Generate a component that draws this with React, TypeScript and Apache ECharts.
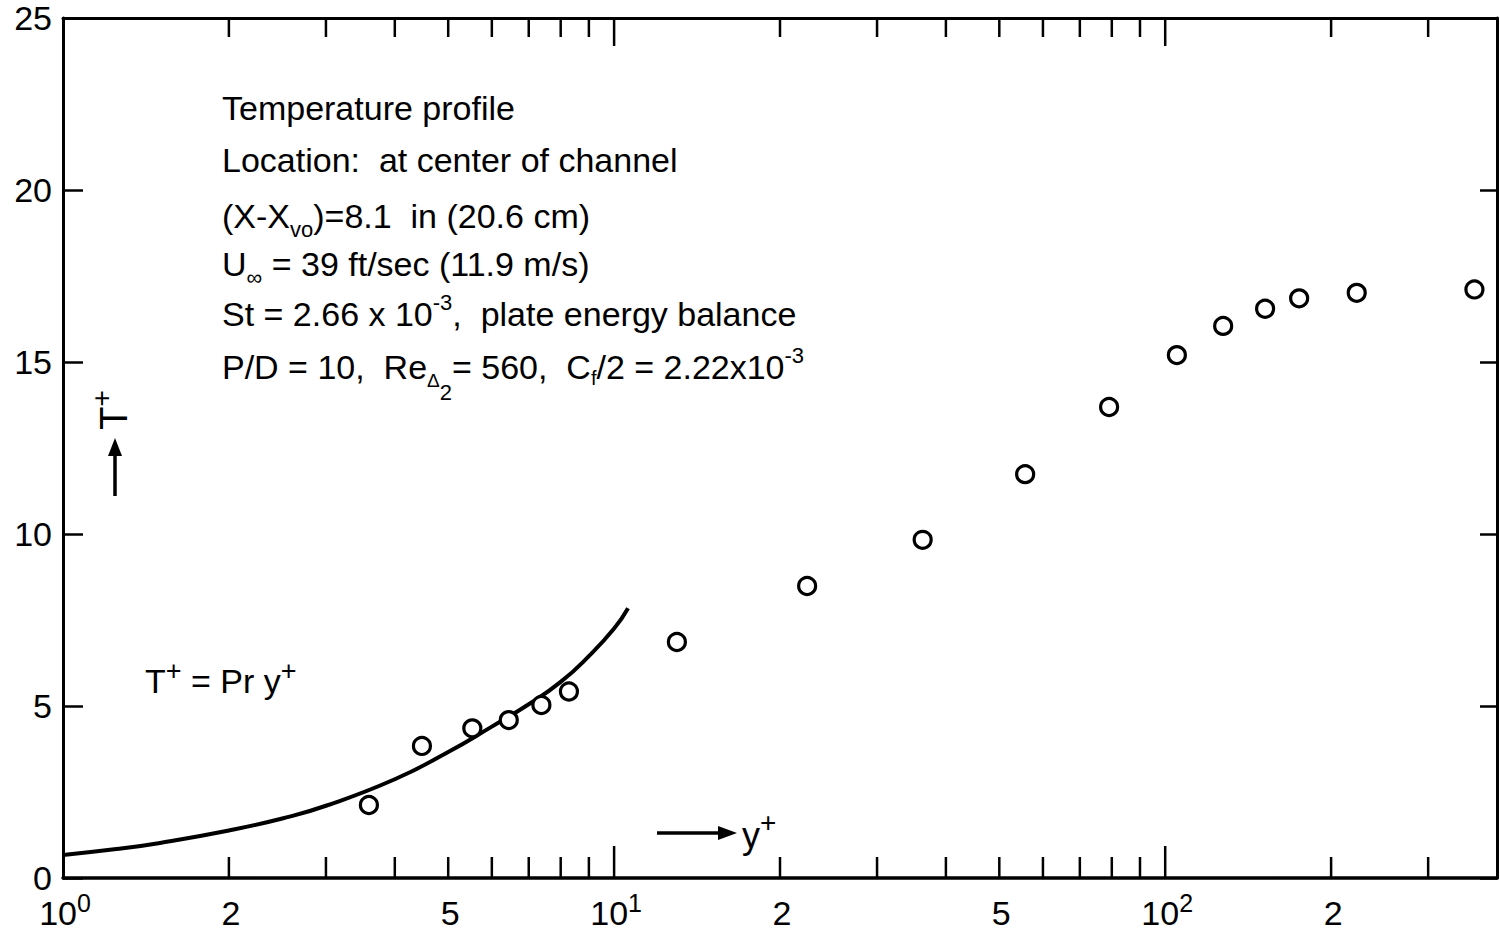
import React, { useEffect, useRef } from 'react';
import * as echarts from 'echarts';

// ---- data ----
const yPlusData = [3.59, 4.48, 5.53, 6.44, 7.38, 8.28, 13.0, 22.4, 36.3, 55.7, 79.1, 105, 127.4, 151.8, 175, 222.6, 364];
const tPlusData = [2.12, 3.84, 4.35, 4.59, 5.03, 5.42, 6.86, 8.49, 9.83, 11.74, 13.69, 15.2, 16.05, 16.55, 16.85, 17.01, 17.11];

// T+ = Pr y+ curve
const lawYPlus = [1, 1.25, 1.5, 2, 2.5, 3, 4, 5, 6, 7, 8, 9, 10, 10.6];
const lawTPlus = [0.67, 0.84, 1.02, 1.38, 1.73, 2.1, 2.87, 3.66, 4.4, 5.05, 5.7, 6.45, 7.25, 7.84];

const xMin = 1;
const xMax = 400;
const yMin = 0;
const yMax = 25;
const yStep = 5;

const xTickValues = [2, 3, 4, 5, 6, 7, 8, 9, 10, 20, 30, 40, 50, 60, 70, 80, 90, 100, 200, 300];
const xLabelValues = [1, 2, 5, 10, 20, 50, 100, 200];
const xLabelTexts = ['10^0', '2', '5', '10^1', '2', '5', '10^2', '2'];

const infoLines = [
  '{m|Temperature profile}',
  '{m|Location:  at center of channel}',
  '{m|(X-X}{sub|vo}{m|)=8.1  in (20.6 cm)}',
  '{m|U}{sub|∞}{m| = 39 ft/sec (11.9 m/s)}',
  '{m|St = 2.66 x 10}{sup|-3}{m|,  plate energy balance}',
  '{m|P/D = 10,  Re}{subD|Δ}{sub2|2}{m|= 560,  C}{subf|f}{m|/2 = 2.22x10}{sup|-3}',
];
const infoLineY = [108, 160, 216, 264, 314, 367];

const FONT = '"Liberation Sans", Arial, sans-serif';

function toRich(s: string) {
  if (s.includes('^')) {
    const [b, p] = s.split('^');
    return `{b|${b}}{s|${p}}`;
  }
  return `{b|${s}}`;
}

// rich token shifted vertically by d px (positive = down) using asymmetric padding
function shifted(fontSize: number, d: number) {
  const p = Math.abs(d) * 2;
  return {
    fontSize,
    fontFamily: FONT,
    lineHeight: 10,
    verticalAlign: 'middle',
    padding: d >= 0 ? [p, 0, 0, 0] : [0, 0, p, 0],
  };
}

export default function App() {
  const ref = useRef<HTMLDivElement>(null);

  useEffect(() => {
    const chart = echarts.init(ref.current!, null, { renderer: 'svg' });
    const L = 63, R = 1497, T = 18, B = 878;

    const infoRich = {
      m: { fontSize: 34, fontFamily: FONT, lineHeight: 50, verticalAlign: 'middle' },
      sup: shifted(22, -12),
      sub: shifted(22, 13),
      subD: shifted(19, 13),
      sub2: shifted(22, 25),
      subf: shifted(20, 11),
    };

    const blackLine = { color: '#000', width: 3 };

    const option: any = {
      animation: false,
      backgroundColor: '#fff',
      grid: { left: L, right: 1500 - R, top: T, bottom: 933 - B, containLabel: false },
      xAxis: [
        {
          type: 'log', logBase: 10, min: xMin, max: xMax, position: 'bottom',
          axisLine: { show: true, onZero: false, lineStyle: { ...blackLine, width: 3.5 } },
          axisTick: { show: false }, axisLabel: { show: false }, splitLine: { show: false },
        },
        {
          type: 'log', logBase: 10, min: xMin, max: xMax, position: 'top',
          axisLine: { show: true, onZero: false, lineStyle: blackLine },
          axisTick: { show: false }, axisLabel: { show: false }, splitLine: { show: false },
        },
      ],
      yAxis: [
        {
          type: 'value', min: yMin, max: yMax, interval: yStep, position: 'left',
          axisLine: { show: true, onZero: false, lineStyle: blackLine },
          axisTick: { show: true, inside: true, length: 20, lineStyle: { color: '#000', width: 2.5 } },
          axisLabel: { show: true, fontSize: 34, color: '#000', fontFamily: FONT, margin: 11 },
          splitLine: { show: false },
        },
        {
          type: 'value', min: yMin, max: yMax, interval: yStep, position: 'right',
          axisLine: { show: true, onZero: false, lineStyle: blackLine },
          axisTick: { show: true, inside: true, length: 17, lineStyle: { color: '#000', width: 2.5 } },
          axisLabel: { show: false },
          splitLine: { show: false },
        },
      ],
      series: [
        {
          type: 'custom', xAxisIndex: 0, yAxisIndex: 0, clip: false, silent: true,
          data: xTickValues.map((v) => [v, yMin]),
          encode: { x: 0, y: 1 },
          renderItem: (params: any, api: any) => {
            const v = api.value(0);
            const b = api.coord([v, yMin]);
            const t = api.coord([v, yMax]);
            const lg = Math.log10(v);
            const major = Math.abs(lg - Math.round(lg)) < 1e-9;
            const lb = major ? 32 : 21;
            const lt = major ? 28 : 19;
            const st = { stroke: '#000', lineWidth: 2.5 };
            return {
              type: 'group',
              children: [
                { type: 'line', shape: { x1: b[0], y1: b[1], x2: b[0], y2: b[1] - lb }, style: st },
                { type: 'line', shape: { x1: t[0], y1: t[1], x2: t[0], y2: t[1] + lt }, style: st },
              ],
            };
          },
        },
        {
          type: 'custom', xAxisIndex: 0, yAxisIndex: 0, clip: false, silent: true,
          data: xLabelValues.map((v) => [v, yMin]),
          encode: { x: 0, y: 1 },
          renderItem: (params: any, api: any) => {
            const v = api.value(0);
            const p = api.coord([v, yMin]);
            const txt = toRich(xLabelTexts[params.dataIndex]);
            return {
              type: 'text',
              x: p[0] + 2,
              y: p[1] + 35,
              style: {
                text: txt,
                fill: '#000',
                align: 'center', textAlign: 'center',
                verticalAlign: 'middle', textVerticalAlign: 'middle',
                rich: {
                  b: { fontSize: 34, fontFamily: FONT, lineHeight: 44, verticalAlign: 'middle' },
                  s: shifted(25, -10),
                },
              },
            };
          },
        },
        {
          name: 'Pr y+', type: 'line', xAxisIndex: 0, yAxisIndex: 0,
          data: lawYPlus.map((x, i) => [x, lawTPlus[i]]),
          showSymbol: false, smooth: 0.5,
          lineStyle: { color: '#000', width: 4 },
          z: 3,
        },
        {
          name: 'data', type: 'scatter', xAxisIndex: 0, yAxisIndex: 0,
          data: yPlusData.map((x, i) => [x, tPlusData[i]]),
          symbol: 'circle', symbolSize: 17,
          itemStyle: { color: '#fff', borderColor: '#000', borderWidth: 3.2, opacity: 1 },
          z: 5,
        },
      ],
      graphic: {
        elements: [
          ...infoLines.map((s, i) => ({
            type: 'text', x: 222, y: infoLineY[i], silent: true,
            style: {
              text: s, fill: '#000', rich: infoRich,
              align: 'left', textAlign: 'left', verticalAlign: 'middle', textVerticalAlign: 'middle',
            },
          })),
          {
            type: 'text', x: 145, y: 681, silent: true,
            style: {
              text: '{m|T}{sup|+}{m| = Pr y}{sup|+}', fill: '#000',
              rich: {
                m: { fontSize: 34, fontFamily: FONT, lineHeight: 44, verticalAlign: 'middle' },
                sup: shifted(27, -10),
              },
              align: 'left', textAlign: 'left', verticalAlign: 'middle', textVerticalAlign: 'middle',
            },
          },
          {
            type: 'text', x: 742, y: 835, silent: true,
            style: {
              text: '{m|y}{sup|+}', fill: '#000',
              rich: {
                m: { fontSize: 36, fontFamily: FONT, lineHeight: 44, verticalAlign: 'middle' },
                sup: shifted(28, -13),
              },
              align: 'left', textAlign: 'left', verticalAlign: 'middle', textVerticalAlign: 'middle',
            },
          },
          {
            type: 'line', silent: true,
            shape: { x1: 657, y1: 833, x2: 724, y2: 833 },
            style: { stroke: '#000', lineWidth: 3.5 },
          },
          {
            type: 'polygon', silent: true,
            shape: { points: [[718, 826], [718, 840], [737, 833]] },
            style: { fill: '#000' },
          },
          {
            type: 'text', x: 114, y: 410, rotation: Math.PI / 2, silent: true,
            style: {
              text: '{m|T}{sup|+}', fill: '#000',
              rich: {
                m: { fontSize: 38, fontFamily: FONT, lineHeight: 44, verticalAlign: 'middle' },
                sup: shifted(28, -13),
              },
              align: 'center', textAlign: 'center', verticalAlign: 'middle', textVerticalAlign: 'middle',
            },
          },
          {
            type: 'line', silent: true,
            shape: { x1: 115, y1: 496, x2: 115, y2: 452 },
            style: { stroke: '#000', lineWidth: 3.5 },
          },
          {
            type: 'polygon', silent: true,
            shape: { points: [[108, 456], [122, 456], [115, 438]] },
            style: { fill: '#000' },
          },
        ],
      },
    };

    chart.setOption(option);
    return () => chart.dispose();
  }, []);

  return (
    <div
      ref={ref}
      style={{ position: 'absolute', left: 0, top: 0, width: 1500, height: 933, background: '#fff' }}
    />
  );
}
